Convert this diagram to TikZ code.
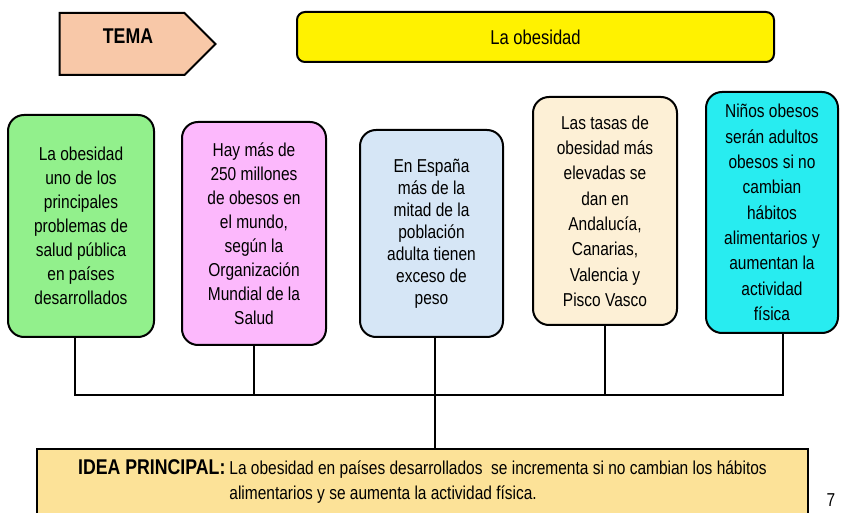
\documentclass[tikz,border=0pt]{standalone}
\usepackage{fontspec}
\setmainfont{Liberation Sans}[FakeStretch=0.83]
\usetikzlibrary{shapes.symbols}

\definecolor{temafill}{RGB}{248,200,168}
\definecolor{greenfill}{RGB}{146,240,140}
\definecolor{pinkfill}{RGB}{252,184,252}
\definecolor{bluefill}{RGB}{214,230,246}
\definecolor{beigefill}{RGB}{253,240,214}
\definecolor{cyanfill}{RGB}{40,236,240}
\definecolor{ideafill}{RGB}{252,226,152}

\begin{document}
\begin{tikzpicture}[x=0.75pt, y=-0.75pt, every node/.style={font=\fontsize{14}{18}\selectfont},
  box/.style={draw, rectangle, rounded corners=12pt, line width=1.5pt, align=center, inner sep=0pt},
  wire/.style={line width=1.5pt}]
\clip (0,0) rectangle (843,513);
\fill[white] (0,0) rectangle (843,513);
% cabecera
\node[draw,signal,signal to=east,fill=temafill,line width=1.5pt,minimum width=117pt,minimum height=46.5pt] (tema) at (122,44) {};
\node[font=\fontsize{16}{18}\selectfont\bfseries] (tematxt) at (128,36) {TEMA};
\node[box,fill=yellow,rounded corners=6pt,minimum width=357.75pt,minimum height=37.5pt,font=\fontsize{15}{18}\selectfont] (titulo) at (535.5,37) {La obesidad};
% ideas secundarias
\node[box,fill=greenfill,minimum width=109.5pt,minimum height=166.5pt] (ob1) at (81,226) {La obesidad\\uno de los\\principales\\problemas de\\salud pública\\en países\\desarrollados};
\node[box,fill=pinkfill,minimum width=108pt,minimum height=167.25pt] (ob2) at (254,233.5) {Hay más de\\250 millones\\de obesos en\\el mundo,\\según la\\Organización\\Mundial de la\\Salud};
\node[box,fill=bluefill,minimum width=107.25pt,minimum height=155.25pt,font=\fontsize{14}{16.5}\selectfont] (ob3) at (431.5,233.5) {En España\\más de la\\mitad de la\\población\\adulta tienen\\exceso de\\peso};
\node[box,fill=beigefill,minimum width=108pt,minimum height=171pt,font=\fontsize{14}{19}\selectfont] (ob4) at (605,211) {Las tasas de\\obesidad más\\elevadas se\\dan en\\Andalucía,\\Canarias,\\Valencia y\\Pisco Vasco};
\node[box,fill=cyanfill,minimum width=99pt,minimum height=180.75pt,font=\fontsize{14}{19}\selectfont] (ob5) at (772,212.5) {Niños obesos\\serán adultos\\obesos si no\\cambian\\hábitos\\alimentarios y\\aumentan la\\actividad\\física};
% idea principal
\node[draw,rectangle,fill=ideafill,line width=1.5pt,minimum width=578.25pt,minimum height=49.5pt,inner sep=0pt] (idea) at (422.5,482) {%
  \begin{tabular}{@{}l@{\hspace{3pt}}l@{}}
  {\fontsize{16}{18}\selectfont\bfseries IDEA PRINCIPAL:} & La obesidad en países desarrollados\ \ se incrementa si no cambian los hábitos\\[1pt]
  & alimentarios y se aumenta la actividad física.
  \end{tabular}};
\node[inner sep=1pt] (pagina) at (831,500) {7};
% conectores
\coordinate (bus) at (435,395);
\draw[wire] ([xshift=-4.5pt]ob1.south) |- (bus) -| ([xshift=8.25pt]ob5.south);
\draw[wire] (ob2.south) -- (ob2.south |- bus);
\draw[wire] ([xshift=2.5pt]ob3.south) -- ([xshift=2.5pt]ob3.south |- idea.north);
\draw[wire] (ob4.south) -- (ob4.south |- bus);
\end{tikzpicture}
\end{document}
